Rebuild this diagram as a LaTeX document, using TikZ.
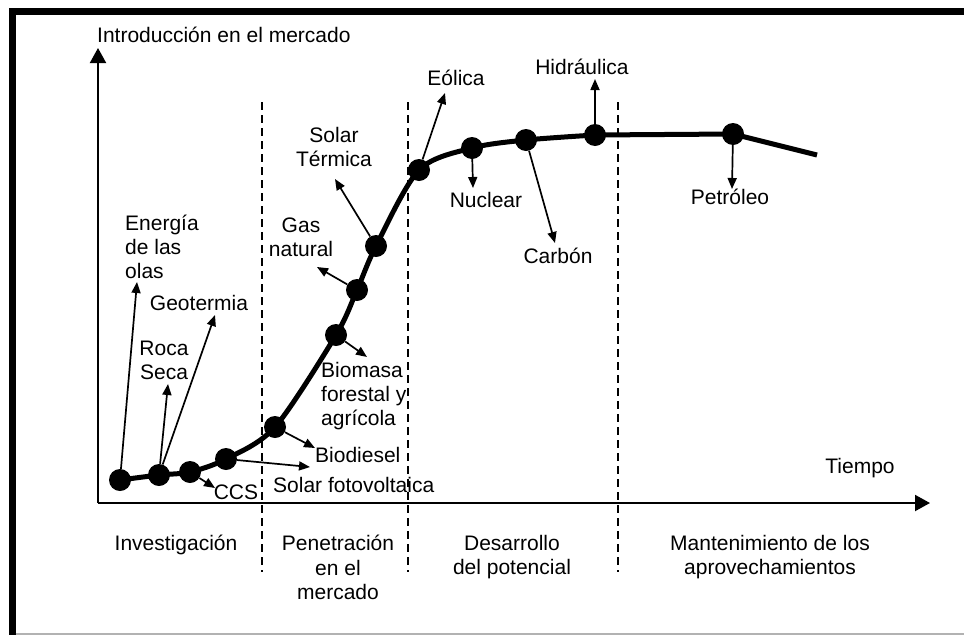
\documentclass[tikz,border=0pt]{standalone}
\usepackage{fontspec}
\setmainfont{Liberation Sans}
\usetikzlibrary{arrows.meta}
\begin{document}
\begin{tikzpicture}[x=1pt,y=-1pt,
  lbl/.style={font=\fontsize{21}{24}\selectfont, inner sep=0pt},
  lblb/.style={font=\fontsize{21}{24.5}\selectfont, inner sep=0pt, align=center, anchor=north},
  dot/.style={circle, fill=black, minimum size=22pt, inner sep=0pt},
  arr/.style={line width=1.7pt, -{Triangle[length=11pt,width=9pt]}},
  axis/.style={line width=2pt, -{Triangle[length=15pt,width=16pt]}},
  divider/.style={line width=1.5pt, dash pattern=on 8pt off 5pt},
  curve/.style={line width=5pt, line join=round}]

\useasboundingbox (0,0) rectangle (964,635);

% frame
\fill[black] (9,8) rectangle (964,14.5);
\fill[black] (9,8) rectangle (15.5,635);
\draw[gray!60, line width=1.5pt] (15.5,634) -- (964,634);

% axes
\coordinate (O) at (98,503);
\coordinate (yend) at (98,48);
\coordinate (xend) at (930,503);
\draw[axis] (O) -- (yend);
\draw[axis] (O) -- (xend);
\node[lbl, anchor=base west] (ylabel) at (97,42) {Introducción en el mercado};
\node[lbl] (xlabel) at (860,468) {Tiempo};

% phase dividers
\coordinate (v1t) at (262,102); \coordinate (v1b) at (262,572);
\coordinate (v2t) at (408,102); \coordinate (v2b) at (408,572);
\coordinate (v3t) at (618,102); \coordinate (v3b) at (618,572);
\draw[divider] (v1t) -- (v1b);
\draw[divider] (v2t) -- (v2b);
\draw[divider] (v3t) -- (v3b);

% phase labels
\node[lblb] (ph1) at (176,535) {Investigación};
\node[lblb] (ph2) at (338,535) {Penetración\\en el\\mercado};
\node[lblb] (ph3) at (512,535) {Desarrollo\\del potencial};
\node[lblb] (ph4) at (770,535) {Mantenimiento de los\\aprovechamientos};

% curve points
\coordinate (c1) at (120,480);
\coordinate (c2) at (159,475);
\coordinate (c3) at (190,472);
\coordinate (c4) at (226,459);
\coordinate (c5) at (275,427);
\coordinate (c6) at (336,335);
\coordinate (c7) at (357,290);
\coordinate (c8) at (376,246);
\coordinate (c9) at (419,170);
\coordinate (c10) at (472,148);
\coordinate (c11) at (526,140);
\coordinate (c12) at (595,135);
\coordinate (c13) at (733,134);
\coordinate (cend) at (817,155);

\draw[curve] plot[smooth, tension=0.5] coordinates {(c1) (c2) (c3) (c4) (c5) (c6) (c7) (c8) (c9) (c10) (c11) (c12)} -- (c13) -- (cend);

% dots
\node[dot] (d1) at (c1) {};
\node[dot] (d2) at (c2) {};
\node[dot] (d3) at (c3) {};
\node[dot] (d4) at (c4) {};
\node[dot] (d5) at (c5) {};
\node[dot] (d6) at (c6) {};
\node[dot] (d7) at (c7) {};
\node[dot] (d8) at (c8) {};
\node[dot] (d9) at (c9) {};
\node[dot] (d10) at (c10) {};
\node[dot] (d11) at (c11) {};
\node[dot] (d12) at (c12) {};
\node[dot] (d13) at (c13) {};

% arrow tips
\coordinate (tolas) at (137,282);
\coordinate (troca) at (168,384);
\coordinate (tgeo) at (215,315);
\coordinate (tccs) at (215,488);
\coordinate (tfoto) at (310,467);
\coordinate (tbiod) at (315,448);
\coordinate (tbiom) at (367,357);
\coordinate (tgas) at (317,267);
\coordinate (tsolt) at (335,179);
\coordinate (teol) at (445,93);
\coordinate (tnuc) at (473,188);
\coordinate (tcarb) at (555,243);
\coordinate (thid) at (595,79);
\coordinate (tpet) at (732,189);

\draw[arr] (d1) -- (tolas);
\draw[arr] (d2) -- (troca);
\draw[arr] (d2) -- (tgeo);
\draw[arr] (d3) -- (tccs);
\draw[arr] (d4) -- (tfoto);
\draw[arr] (d5) -- (tbiod);
\draw[arr] (d6) -- (tbiom);
\draw[arr] (d7) -- (tgas);
\draw[arr] (d8) -- (tsolt);
\draw[arr] (d9) -- (teol);
\draw[arr] (d10) -- (tnuc);
\draw[arr] (d11) -- (tcarb);
\draw[arr] (d12) -- (thid);
\draw[arr] (d13) -- (tpet);

% labels
\node[lbl, align=left, anchor=west] (lolas) at (125,247) {Energía\\de las\\olas};
\node[lbl] (lgeo) at (199,303) {Geotermia};
\node[lbl, align=center] (lroca) at (164,360) {Roca\\Seca};
\node[lbl] (lccs) at (236,492) {CCS};
\node[lbl, anchor=west] (lfoto) at (273,485) {Solar fotovoltaica};
\node[lbl, anchor=west] (lbiod) at (315,455) {Biodiesel};
\node[lbl, align=left, anchor=west] (lbiom) at (321,396) {Biomasa\\forestal y\\agrícola};
\node[lbl, align=center] (lgas) at (301,237) {Gas\\natural};
\node[lbl, align=center] (lsolt) at (334,147) {Solar\\Térmica};
\node[lbl] (leol) at (456,78) {Eólica};
\node[lbl] (lhid) at (582,67) {Hidráulica};
\node[lbl] (lnuc) at (486,200) {Nuclear};
\node[lbl] (lcarb) at (558,256) {Carbón};
\node[lbl] (lpet) at (730,197) {Petróleo};
\end{tikzpicture}
\end{document}
